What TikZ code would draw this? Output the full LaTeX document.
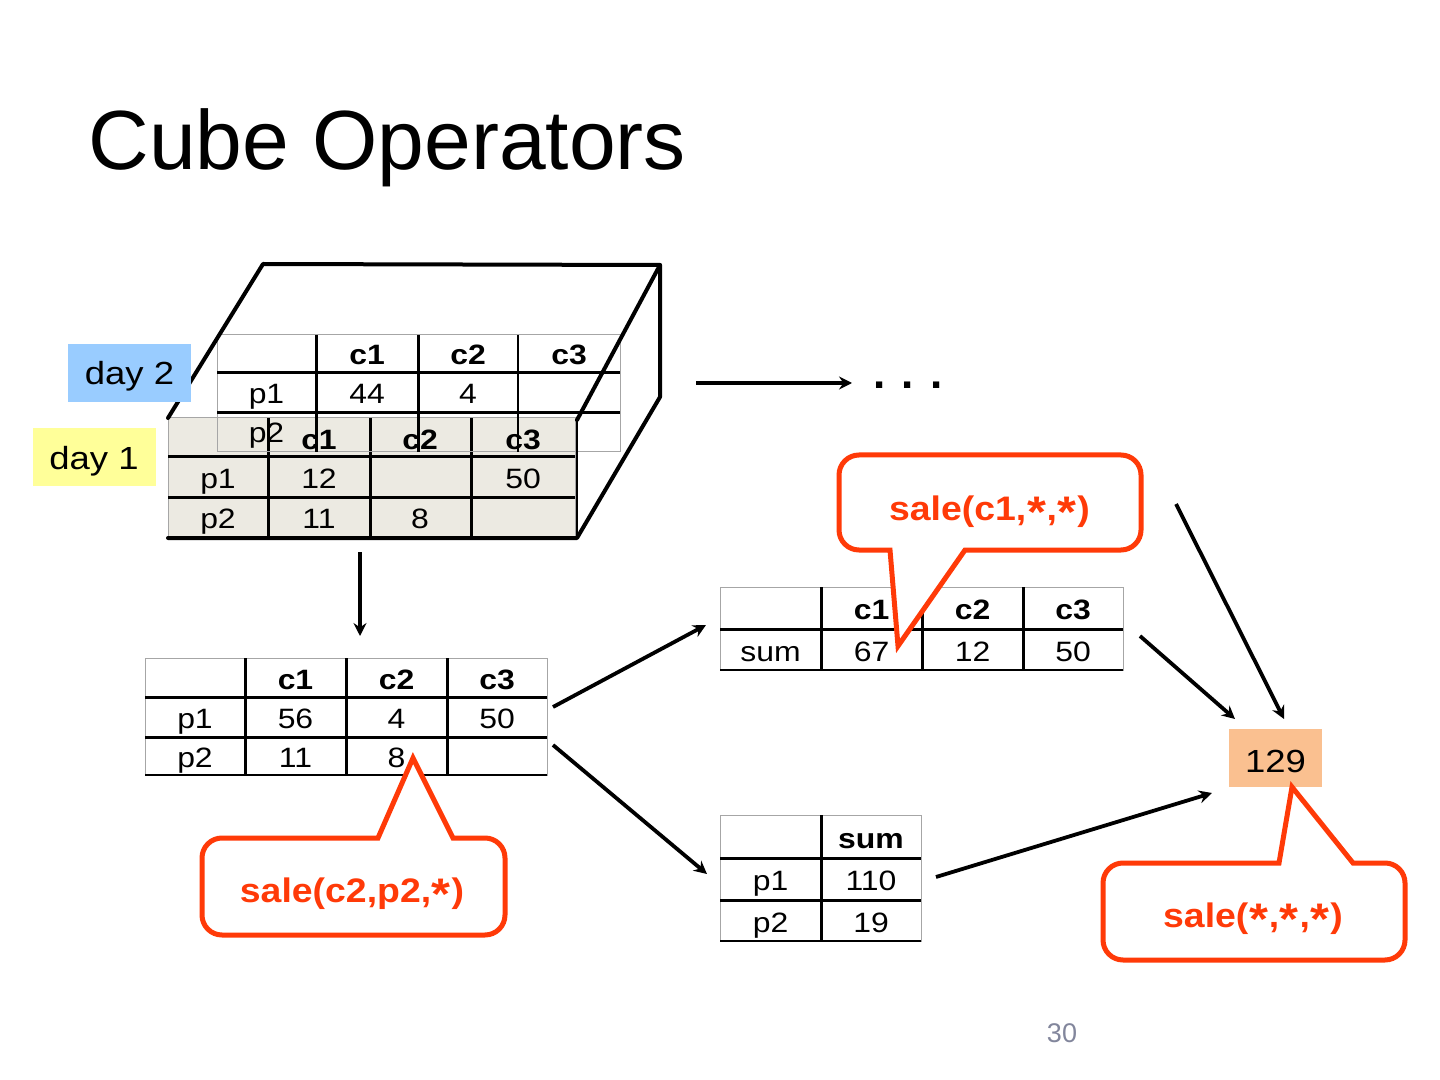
\documentclass[tikz,border=0pt]{standalone}
\usepackage{fontspec}
\setmainfont{Liberation Sans}
\newfontfamily\tfont[FakeStretch=1.14]{Liberation Sans}
\newfontfamily\cfont[FakeStretch=1.1]{Liberation Sans}
\usetikzlibrary{arrows.meta}
\definecolor{callred}{RGB}{255,58,8}
\definecolor{dayblue}{RGB}{153,204,255}
\definecolor{dayyellow}{RGB}{255,255,153}
\definecolor{beige}{RGB}{236,234,226}
\definecolor{peach}{RGB}{250,192,144}
\definecolor{pagegray}{RGB}{130,134,156}
\newcommand\wast{\makebox[0.6em]{\raisebox{-0.22em}{\scalebox{1.3}{*}}}}
\tikzset{
  cell/.style={anchor=base, inner sep=0pt, font=\tfont\fontsize{14}{16}\selectfont},
  hcell/.style={anchor=base, inner sep=0pt, font=\tfont\bfseries\fontsize{14}{16}\selectfont},
  thinln/.style={line width=0.5pt, draw=black!35},
  thk/.style={line width=1.5pt, draw=black},
  cubeln/.style={line width=2pt, draw=black, line cap=round, line join=round},
  arr/.style={line width=1.9pt, -{Stealth[length=6.5pt,width=6.5pt,inset=2.2pt]}},
  call/.style={draw=callred, line width=2.5pt, fill=white, line join=miter},
  calltext/.style={anchor=base, inner sep=0pt, text=callred, font=\cfont\bfseries\fontsize{17}{20}\selectfont},
  daybox/.style={inner sep=0pt, minimum width=61.5pt, minimum height=29pt, text height=12pt, text depth=0pt, font=\tfont\fontsize{16}{18}\selectfont},
}
\begin{document}
\begin{tikzpicture}[x=0.5pt,y=-0.5pt]
\useasboundingbox (0,0) rectangle (1440,1080);
\fill[white] (0,0) rectangle (1440,1080);

% title
\node[anchor=base west, inner sep=0pt, font=\fontsize{42}{48}\selectfont] (title) at (88,170) {Cube Operators};

% ---------- day 1 table (front) ----------
\fill[beige] (168,418) rectangle (575,538);
\draw[thinln] (168,418) rectangle (575,538);
\draw[thk] (168,457) -- (575,457);
\draw[thk] (168,497) -- (575,497);
\draw[thk] (268,418) -- (268,538);
\draw[thk] (370,418) -- (370,538);
\draw[thk] (471,418) -- (471,538);
\node[hcell] (d1h1) at (319,450) {c1};
\node[hcell] (d1h2) at (420,450) {c2};
\node[hcell] (d1h3) at (523,450) {c3};
\node[cell] (d1r1) at (218,488) {p1};
\node[cell] (d1a) at (319,488) {12};
\node[cell] (d1b) at (523,488) {50};
\node[cell] (d1r2) at (218,528) {p2};
\node[cell] (d1c) at (319,528) {11};
\node[cell] (d1d) at (420,528) {8};

% ---------- day 2 table (back) ----------
\draw[thinln] (217,335) rectangle (620,452);
\draw[thk] (217,373) -- (620,373);
\draw[thk] (217,413) -- (620,413);
\draw[thk] (316,335) -- (316,452);
\draw[thk] (418,335) -- (418,452);
\draw[line width=0.8pt] (518,335) -- (518,452);
\node[hcell] (d2h1) at (367,365) {c1};
\node[hcell] (d2h2) at (468,365) {c2};
\node[hcell] (d2h3) at (569,365) {c3};
\node[cell] (d2r1) at (266.5,404) {p1};
\node[cell] (d2a) at (367,404) {44};
\node[cell] (d2b) at (468,404) {4};
\node[cell] (d2r2) at (266.5,443) {p2};

% ---------- cube outline ----------
\draw[cubeln] (168,418) -- (263,264) -- (660,265) -- (660,397) -- (577,538) -- (168,538);
\draw[cubeln] (660,265) -- (577,420);
\draw[line width=1pt] (577,418) -- (577,538);

% day labels
\node[daybox, fill=dayblue] (day2) at (129.5,373) {day 2};
\node[daybox, fill=dayyellow] (day1) at (94,457) {day 1};

% arrow to dots
\coordinate (ar1s) at (696,383);
\node[anchor=base, inner sep=0pt, font=\bfseries\fontsize{22}{24}\selectfont] (dots) at (908,389) {. . .};
\coordinate (ar1e) at (852,383);
\draw[arr] (ar1s) -- (ar1e);

% down arrow
\coordinate (ar2s) at (360,552);
\coordinate (ar2e) at (360,636);
\draw[arr] (ar2s) -- (ar2e);

% ---------- lower-left table ----------
\draw[thinln] (145,658) rectangle (547,775);
\draw[line width=0.8pt] (145,775) -- (547,775);
\draw[thk] (145,697) -- (547,697);
\draw[thk] (145,737) -- (547,737);
\draw[thk] (245,658) -- (245,775);
\draw[thk] (346,658) -- (346,775);
\draw[thk] (447,658) -- (447,775);
\node[hcell] (lth1) at (295.5,689) {c1};
\node[hcell] (lth2) at (396.5,689) {c2};
\node[hcell] (lth3) at (497,689) {c3};
\node[cell] (ltr1) at (195,728) {p1};
\node[cell] (lta) at (295.5,728) {56};
\node[cell] (ltb) at (396.5,728) {4};
\node[cell] (ltc) at (497,728) {50};
\node[cell] (ltr2) at (195,767) {p2};
\node[cell] (ltd) at (295.5,767) {11};
\node[cell] (lte) at (396.5,767) {8};

% ---------- sum by column table ----------
\draw[thinln] (720,587) rectangle (1123,670);
\draw[line width=0.8pt] (720,670) -- (1123,670);
\draw[thk] (720,629) -- (1123,629);
\draw[thk] (821,587) -- (821,670);
\draw[thk] (922,587) -- (922,670);
\draw[thk] (1023,587) -- (1023,670);
\node[hcell] (sch1) at (871.5,619) {c1};
\node[hcell] (sch2) at (972.5,619) {c2};
\node[hcell] (sch3) at (1073,619) {c3};
\node[cell] (scr) at (770.5,661) {sum};
\node[cell] (sca) at (871.5,661) {67};
\node[cell] (scb) at (972.5,661) {12};
\node[cell] (scc) at (1073,661) {50};

% ---------- sum by row table ----------
\draw[thinln] (720,815) rectangle (921,941);
\draw[line width=0.8pt] (720,941) -- (921,941);
\draw[thk] (720,858) -- (921,858);
\draw[thk] (720,900) -- (921,900);
\draw[thk] (821,815) -- (821,941);
\node[hcell] (srh) at (871,848) {sum};
\node[cell] (srr1) at (770.5,890) {p1};
\node[cell] (sra) at (871,890) {110};
\node[cell] (srr2) at (770.5,932) {p2};
\node[cell] (srb) at (871,932) {19};

% result
\node[fill=peach, inner sep=0pt, minimum width=46.5pt, minimum height=29pt, text height=14pt, text depth=0pt, font=\tfont\fontsize{16}{18}\selectfont] (res) at (1275.5,758) {129};

% connectors
\coordinate (a3s) at (553,707); \coordinate (a3e) at (706,625);
\coordinate (a4s) at (553,745); \coordinate (a4e) at (707,874);
\coordinate (a5s) at (1140,636); \coordinate (a5e) at (1235,719);
\coordinate (a6s) at (1176,504); \coordinate (a6e) at (1284,719);
\coordinate (a7s) at (936,877); \coordinate (a7e) at (1212,793);
\draw[arr] (a3s) -- (a3e);
\draw[arr] (a4s) -- (a4e);
\draw[arr] (a5s) -- (a5e);
\draw[arr] (a6s) -- (a6e);
\draw[arr] (a7s) -- (a7e);

% ---------- callouts ----------
\draw[call] (890,550) -- (898,646) -- (965,550) [rounded corners=10pt] -- (1141,550) -- (1141,455) -- (839,455) -- (839,550) [sharp corners] -- cycle;
\node[calltext] (cl1) at (989.5,520) {sale(c1,\wast,\wast)};

\draw[call] (378,838) -- (413,758) -- (453,838) [rounded corners=10pt] -- (505,838) -- (505,935) -- (202,935) -- (202,838) [sharp corners] -- cycle;
\node[calltext] (cl2) at (352,902) {sale(c2,p2,\wast)};

\draw[call] (1279,863) -- (1292,787) -- (1353,863) [rounded corners=10pt] -- (1405,863) -- (1405,960) -- (1103,960) -- (1103,863) [sharp corners] -- cycle;
\node[calltext] (cl3) at (1253,927) {sale(\wast,\wast,\wast)};

% page number
\node[anchor=base, inner sep=0pt, text=pagegray, font=\fontsize{13.5}{16}\selectfont] (pg) at (1062,1042) {30};
\end{tikzpicture}
\end{document}
